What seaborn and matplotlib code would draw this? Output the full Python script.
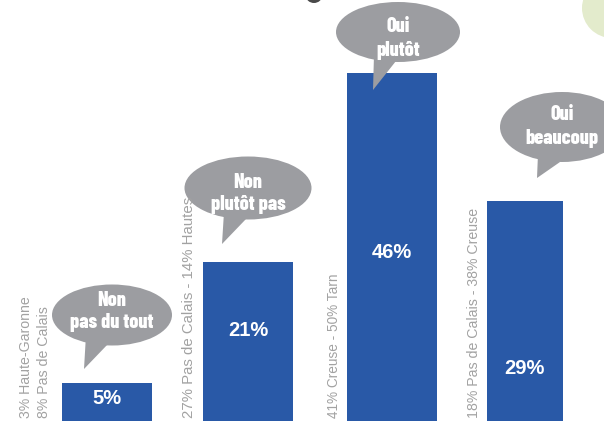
import numpy as np
import pandas as pd
import seaborn as sns
import matplotlib.pyplot as plt
from matplotlib.patches import Ellipse, Polygon, Circle

# données
answers = ["Non pas du tout", "Non plutôt pas", "Oui plutôt", "Oui beaucoup"]
values = [5, 21, 46, 29]
bubble_lines = [("Non", "pas du tout"), ("Non", "plutôt pas"), ("Oui", "plutôt"), ("Oui", "beaucoup")]
side_labels = [["3% Haute-Garonne", "8% Pas de Calais"],
               ["27% Pas de Calais - 14% Hautes"],
               ["41% Creuse - 50% Tarn"],
               ["18% Pas de Calais - 38% Creuse"]]

blue = "#2959a7"
grey = "#9c9da1"
label_grey = "#a2a2a2"

sns.set_theme(style="white")
plt.rcParams['font.family'] = ['Liberation Sans', 'DejaVu Sans']

fig = plt.figure(figsize=(6.04, 4.21), dpi=100)
ax = fig.add_axes([0, 0, 1, 1])

df = pd.DataFrame({"reponse": answers, "pct": values})
sns.barplot(data=df, x="reponse", y="pct", color=blue, saturation=1,
            width=90 / 142, ax=ax)

# mise en page (pixels)
step = 142.0
x0 = 107.0
px_per_pct = 7.57
ax.set_xlim(-x0 / step, (604 - x0) / step)
ax.set_ylim(0, 421 / px_per_pct)
ax.axis("off")

# la dernière barre est plus étroite et décalée
bar_left = [62, 203, 347, 487]
bar_w = [90, 90, 90, 76]
for p, l, w in zip(ax.patches, bar_left, bar_w):
    p.set_x((l - x0) / step)
    p.set_width(w / step)
    p.set_edgecolor("none")

# couche de décor en pixels
ov = fig.add_axes([0, 0, 1, 1], zorder=5)
ov.set_xlim(0, 604)
ov.set_ylim(421, 0)
ov.axis("off")
ov.patch.set_alpha(0)

# pourcentages
pct_pos = [(107, 399), (248, 331), (392, 252), (524, 369)]
for v, (x, y) in zip(values, pct_pos):
    ov.text(x, y, f"{v}%", color="white", fontsize=14.5, fontweight="bold",
            ha="center", va="center")

# libellés verticaux
side_x = [[26, 44], [189], [334], [474]]
side_fs = [10.2, 10.8, 9.8, 10.2]
for labs, xs, fs in zip(side_labels, side_x, side_fs):
    for t, x in zip(labs, xs):
        ov.text(x, 418, t, rotation=90, color=label_grey, fontsize=fs,
                ha="center", va="bottom")

# bulles
bubbles = [
    dict(c=(112, 315), w=120, h=61, tail=[(86, 335), (108, 344), (84, 369)], ty=(300, 323)),
    dict(c=(248, 188), w=127, h=63, tail=[(224, 212), (246, 219), (222, 244)], ty=(182, 205)),
    dict(c=(398, 32), w=124, h=60, tail=[(374, 55), (396, 61), (373, 90)], ty=(27, 51)),
    dict(c=(562, 127), w=124, h=70, tail=[(538, 154), (560, 162), (537, 178)], ty=(115, 138)),
]
for b, lines in zip(bubbles, bubble_lines):
    ov.add_patch(Ellipse(b["c"], b["w"], b["h"], facecolor=grey, edgecolor="none"))
    ov.add_patch(Polygon(b["tail"], closed=True, facecolor=grey, edgecolor="none"))
    for t, y in zip(lines, b["ty"]):
        ov.text(b["c"][0], y, t, color="white", fontsize=14.5, fontweight=800,
                family=["Barlow Condensed", "DejaVu Sans"],
                ha="center", va="center")

# restes du titre et décor en haut
ov.add_patch(Ellipse((314, -4), 16, 14, facecolor="#4a4a4a", edgecolor="none"))
ov.add_patch(Circle((612, 8), 30, facecolor="#e3ebcc", edgecolor="none"))

fig.savefig("out.png", dpi=100)
